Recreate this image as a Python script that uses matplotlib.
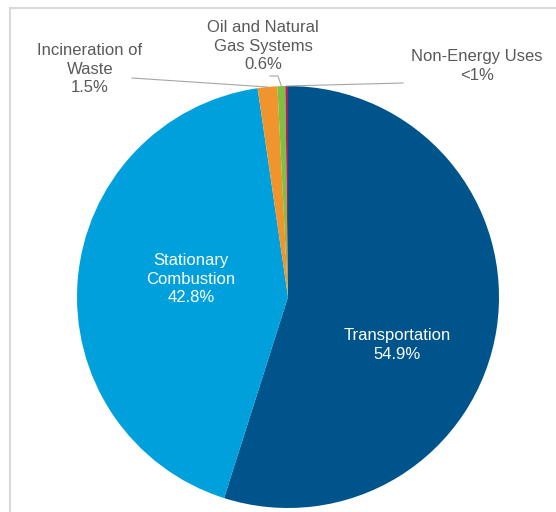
import numpy as np
import matplotlib
matplotlib.use("Agg")
import matplotlib.pyplot as plt
from matplotlib.lines import Line2D

plt.rcParams['font.family'] = ['Liberation Sans', 'DejaVu Sans']

# data
sectors = ["Transportation", "Stationary Combustion", "Incineration of Waste",
           "Oil and Natural Gas Systems", "Non-Energy Uses"]
shares = [54.9, 42.8, 1.5, 0.6, 0.2]
label_texts = ["Transportation\n54.9%", "Stationary\nCombustion\n42.8%",
               "Incineration of\nWaste\n1.5%", "Oil and Natural\nGas Systems\n0.6%",
               "Non-Energy Uses\n<1%"]
colors = ["#00548c", "#00a0dc", "#f0952d", "#7dc143", "#b01e5e"]

W, H = 556, 512
fig = plt.figure(figsize=(W / 100, H / 100), dpi=100)
ax = fig.add_axes([0, 0, 1, 1])

cx, cy, R = 288, H - 297, 211
wedges, _ = ax.pie(shares, colors=colors, startangle=90, counterclock=False,
                   center=(cx, cy), radius=R, frame=True,
                   wedgeprops=dict(linewidth=0))
ax.set_xlim(0, W)
ax.set_ylim(0, H)
ax.set_aspect("equal")
ax.axis("off")

fs = 12
ls = 1.3
# inside labels
ax.text(397, H - 345, label_texts[0], color="white", fontsize=fs,
        ha="center", va="center", linespacing=ls)
ax.text(191, H - 279, label_texts[1], color="white", fontsize=fs,
        ha="center", va="center", linespacing=ls)

# outside labels with leader lines (start point, optional elbow)
gray = "#595959"
outside = [(2, (90, H - 69), [(132, H - 78)]),
           (3, (263, H - 46), [(270, H - 76), (278, H - 76)]),
           (4, (477, H - 66), [(403, H - 83)])]
for i, tpos, pts in outside:
    w = wedges[i]
    mid = np.deg2rad((w.theta1 + w.theta2) / 2)
    ex, ey = cx + R * np.cos(mid), cy + R * np.sin(mid)
    ax.text(tpos[0], tpos[1], label_texts[i], color=gray, fontsize=fs,
            ha="center", va="center", linespacing=ls)
    xs = [p[0] for p in pts] + [ex]
    ys = [p[1] for p in pts] + [ey]
    ax.plot(xs, ys, color="#a6a6a6", lw=0.8)

# frame border (partly cropped)
fig.add_artist(Line2D([10 / W, 10 / W], [0, 1 - 8 / H], color="#d9d9d9", lw=1.5,
                      transform=fig.transFigure))
fig.add_artist(Line2D([10 / W, 1], [1 - 8 / H, 1 - 8 / H], color="#d9d9d9", lw=1.5,
                      transform=fig.transFigure))

fig.savefig("out.png", dpi=100)
